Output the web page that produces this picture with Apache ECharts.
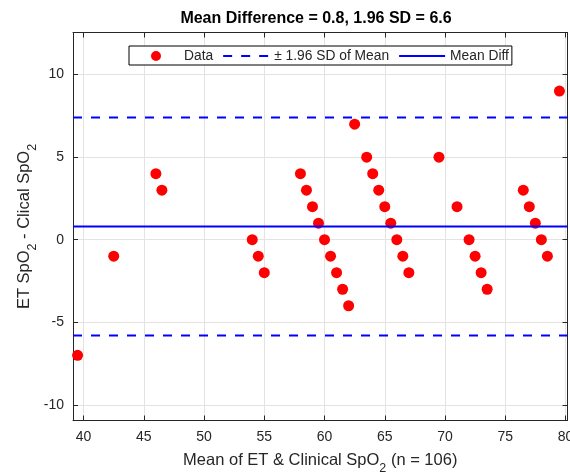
<!DOCTYPE html>
<html><head><meta charset="utf-8">
<script src="https://cdn.jsdelivr.net/npm/echarts@6/dist/echarts.min.js"></script>
<style>html,body{margin:0;padding:0;background:#fff}#c{width:570px;height:475px}</style>
</head><body><div id="c"></div>
<script>
const titleText = 'Mean Difference = 0.8, 1.96 SD = 6.6';
const xVals = [39.5, 42.5, 46, 46.5, 54, 54.5, 55,
  58, 58.5, 59, 59.5, 60, 60.5, 61, 61.5, 62,
  62.5, 63.5, 64, 64.5, 65, 65.5, 66, 66.5, 67,
  69.5, 71, 72, 72.5, 73, 73.5,
  76.5, 77, 77.5, 78, 78.5, 79.5];
const yVals = [-7, -1, 4, 3, 0, -1, -2,
  4, 3, 2, 1, 0, -1, -2, -3, -4,
  7, 5, 4, 3, 2, 1, 0, -1, -2,
  5, 2, 0, -1, -2, -3,
  3, 2, 1, 0, -1, 9];
const meanDiff = 0.8;
const sd196 = 6.6;
const xTicks = [40, 45, 50, 55, 60, 65, 70, 75, 80];
const yTicks = [-10, -5, 0, 5, 10];
const xRange = [39.12, 80.17];
const yRange = [-10.95, 12.55];
const legendNames = ['Data', '\u00b1 1.96 SD of Mean', 'Mean Diff'];

const ink = '#262626';
const gridCol = '#e3e3e3';
const font = 'Liberation Sans, Arial, sans-serif';

const chart = echarts.init(document.getElementById('c'), null, {renderer: 'canvas'});
const pts = xVals.map((x, i) => [x, yVals[i]]);
const hline = v => [[xRange[0], v], [xRange[1], v]];

function baseAxis(extra) {
  return Object.assign({
    type: 'value',
    axisLine: {show: true, onZero: false, lineStyle: {color: ink, width: 1}},
    axisTick: {show: true, inside: true, length: 5, lineStyle: {color: ink}},
    splitLine: {show: false},
    axisLabel: {show: false}
  }, extra);
}
const nameStyle = {
  rich: {
    n: {fontFamily: font, fontSize: 16.5, color: ink, lineHeight: 23.5, verticalAlign: 'top'},
    s: {fontFamily: font, fontSize: 12.5, color: ink, lineHeight: 23.5, verticalAlign: 'bottom'}
  }
};
const noSym = {color: 'rgba(0,0,0,0)', borderColor: 'rgba(0,0,0,0)', borderWidth: 0};
const dotIcon = 'path://M0,5L0.01,5ZM46,5L45.99,5ZM18,5A5,5,0,1,0,28,5A5,5,0,1,0,18,5Z';

chart.setOption({
  animation: false,
  backgroundColor: '#fff',
  title: {
    text: titleText, left: 316, top: 11, textAlign: 'center', padding: 0,
    textStyle: {fontFamily: font, fontSize: 16, fontWeight: 'bold', color: '#000'}
  },
  legend: {
    data: [
      {name: legendNames[0], icon: dotIcon},
      {name: legendNames[1], itemStyle: noSym},
      {name: legendNames[2], itemStyle: noSym}
    ],
    left: 129, top: 46,
    orient: 'horizontal',
    itemWidth: 46, itemHeight: 10, itemGap: 9,
    padding: [3, 3, 2, 4],
    borderColor: '#000', borderWidth: 1, backgroundColor: '#fff',
    textStyle: {fontFamily: font, fontSize: 13.8, color: ink},
    selectedMode: false
  },
  grid: {left: 73, right: 2.5, top: 32.5, bottom: 54.5, containLabel: false, outerBoundsMode: 'none'},
  xAxis: [
    baseAxis({
      position: 'bottom', min: xRange[0], max: xRange[1],
      axisTick: {show: true, inside: true, length: 5, lineStyle: {color: ink}, customValues: xTicks},
      axisLabel: {show: true, customValues: xTicks, color: ink, fontFamily: font, fontSize: 14, margin: 10},
      splitLine: {show: true, lineStyle: {color: gridCol, width: 1}},
      name: '{n|Mean of ET & Clinical SpO}{s|2}{n| (n = 106)}',
      nameLocation: 'middle', nameGap: 31, nameMoveOverlap: false, nameTextStyle: nameStyle
    }),
    baseAxis({position: 'top', min: xRange[0], max: xRange[1],
      axisTick: {show: true, inside: true, length: 5, lineStyle: {color: ink}, customValues: xTicks}})
  ],
  yAxis: [
    baseAxis({
      position: 'left', min: yRange[0], max: yRange[1],
      axisTick: {show: true, inside: true, length: 5, lineStyle: {color: ink}, customValues: yTicks},
      axisLabel: {show: true, customValues: yTicks, color: ink, fontFamily: font, fontSize: 14, margin: 9},
      splitLine: {show: true, lineStyle: {color: gridCol, width: 1}},
      name: '{n|ET SpO}{s|2}{n| - Clical SpO}{s|2}',
      nameLocation: 'middle', nameGap: 34, nameRotate: 90, nameMoveOverlap: false, nameTextStyle: nameStyle
    }),
    baseAxis({position: 'right', min: yRange[0], max: yRange[1],
      axisTick: {show: true, inside: true, length: 5, lineStyle: {color: ink}, customValues: yTicks}})
  ],
  series: [
    {
      name: legendNames[0], type: 'scatter', data: pts,
      symbol: 'circle', symbolSize: 11,
      itemStyle: {color: '#ff0000', opacity: 1}, z: 2
    },
    {
      name: legendNames[1], type: 'line', data: hline(meanDiff + sd196),
      symbol: 'none', lineStyle: {color: '#0000ff', width: 2, type: [9, 9]},
      itemStyle: {color: '#0000ff'}, z: 3
    },
    {
      name: legendNames[1], type: 'line', data: hline(meanDiff - sd196),
      symbol: 'none', lineStyle: {color: '#0000ff', width: 2, type: [9, 9]},
      itemStyle: {color: '#0000ff'}, z: 3
    },
    {
      name: legendNames[2], type: 'line', data: hline(meanDiff),
      symbol: 'none', lineStyle: {color: '#0000ff', width: 2, type: 'solid'},
      itemStyle: {color: '#0000ff'}, z: 3
    }
  ]
});
</script>
</body></html>
